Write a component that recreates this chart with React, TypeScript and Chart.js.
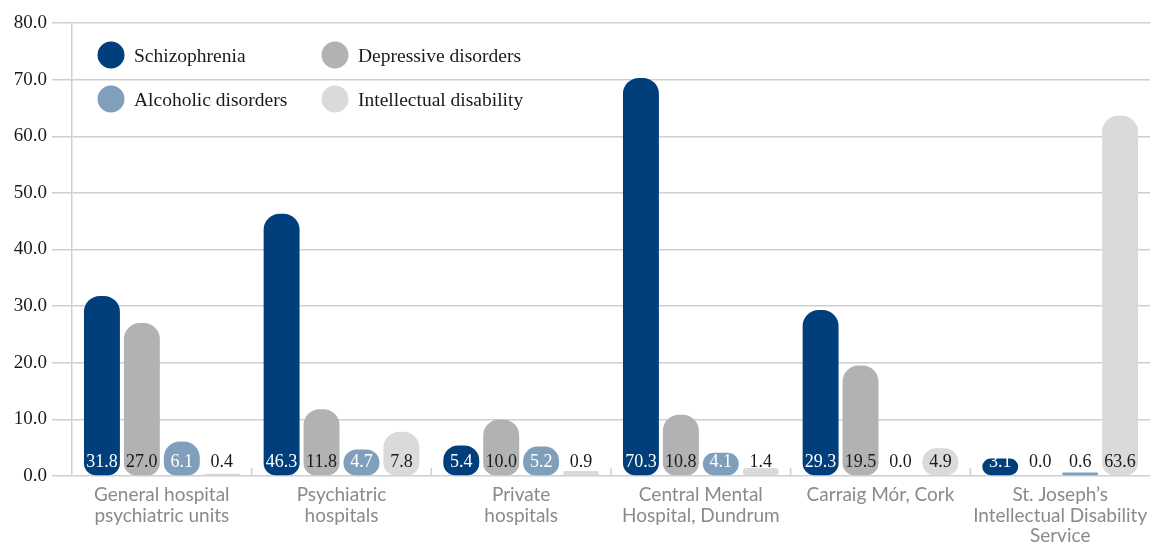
import React, { useEffect, useRef } from "react";
import { Chart, registerables } from "chart.js";

Chart.register(...registerables);

const categories: string[][] = [
  ["General hospital", "psychiatric units"],
  ["Psychiatric", "hospitals"],
  ["Private", "hospitals"],
  ["Central Mental", "Hospital, Dundrum"],
  ["Carraig Mór, Cork"],
  ["St. Joseph’s", "Intellectual Disability", "Service"],
];

const seriesNames = [
  "Schizophrenia",
  "Depressive disorders",
  "Alcoholic disorders",
  "Intellectual disability",
];

const schizophrenia = [31.8, 46.3, 5.4, 70.3, 29.3, 3.1];
const depressive = [27.0, 11.8, 10.0, 10.8, 19.5, 0.0];
const alcoholic = [6.1, 4.7, 5.2, 4.1, 0.0, 0.6];
const intellectual = [0.4, 7.8, 0.9, 1.4, 4.9, 63.6];

const seriesColors = ["#003f7b", "#b1b2b4", "#809fbd", "#d9dadc"];
const darkSeries = [true, false, true, false];

const yMin = 0;
const yMax = 80;
const yStep = 10;

const GRID = "#cfcfcf";
const SERIF = "'Liberation Serif', 'DejaVu Serif', serif";

const legendPlugin = {
  id: "gridLegend",
  afterDraw(chart: any) {
    const ctx = chart.ctx;
    const cols = [111, 335];
    const rows = [55, 99];
    ctx.save();
    chart.data.datasets.forEach((ds: any, i: number) => {
      const cx = cols[i % 2];
      const cy = rows[Math.floor(i / 2)];
      ctx.beginPath();
      ctx.arc(cx, cy, 13.5, 0, Math.PI * 2);
      ctx.fillStyle = ds.backgroundColor;
      ctx.fill();
      ctx.fillStyle = "#1a1a1a";
      ctx.font = `19.5px ${SERIF}`;
      ctx.textAlign = "left";
      ctx.textBaseline = "alphabetic";
      ctx.fillText(ds.label, cx + 23, cy + 6.5);
    });
    ctx.restore();
  },
};

const separatorPlugin = {
  id: "separators",
  afterDatasetsDraw(chart: any) {
    const ctx = chart.ctx;
    const x = chart.scales.x;
    const y = chart.scales.y;
    const base = y.getPixelForValue(0);
    ctx.save();
    ctx.strokeStyle = GRID;
    ctx.lineWidth = 1.5;
    for (let i = 1; i < categories.length; i++) {
      const px = (x.getPixelForValue(i - 1) + x.getPixelForValue(i)) / 2;
      ctx.beginPath();
      ctx.moveTo(px, base - 8);
      ctx.lineTo(px, base);
      ctx.stroke();
    }
    ctx.restore();
  },
};

const valueLabelPlugin = {
  id: "valueLabels",
  afterDatasetsDraw(chart: any) {
    const ctx = chart.ctx;
    const base = chart.scales.y.getPixelForValue(0);
    ctx.save();
    ctx.font = `18px ${SERIF}`;
    ctx.textAlign = "center";
    ctx.textBaseline = "alphabetic";
    chart.data.datasets.forEach((ds: any, di: number) => {
      const meta = chart.getDatasetMeta(di);
      meta.data.forEach((bar: any, i: number) => {
        const v = ds.data[i] as number;
        const white = darkSeries[di] && v >= 2;
        ctx.fillStyle = white ? "#ffffff" : "#1a1a1a";
        ctx.fillText(v.toFixed(1), bar.x, base - 9);
      });
    });
    ctx.restore();
  },
};

export default function App() {
  const ref = useRef<HTMLCanvasElement | null>(null);

  useEffect(() => {
    if (!ref.current) return;
    const values = [schizophrenia, depressive, alcoholic, intellectual];
    const chart = new Chart(ref.current, {
      type: "bar",
      data: {
        labels: categories,
        datasets: values.map((d, i) => ({
          label: seriesNames[i],
          data: d,
          backgroundColor: seriesColors[i],
          borderWidth: 0,
          borderSkipped: false,
          borderRadius: { topLeft: 16, topRight: 16, bottomLeft: 12, bottomRight: 12 },
          categoryPercentage: 0.889,
          barPercentage: 0.9,
        })),
      },
      options: {
        responsive: false,
        animation: false,
        layout: { padding: { top: 23, right: -2, left: 0, bottom: 0 } },
        plugins: {
          legend: { display: false },
          tooltip: { enabled: false },
        },
        scales: {
          x: {
            grid: { display: false, drawTicks: false },
            border: { display: false },
            ticks: {
              color: "#8a8a8a",
              font: { family: "Lato, 'Open Sans', sans-serif", size: 19, lineHeight: 1.08 },
              padding: 9,
              maxRotation: 0,
              autoSkip: false,
            },
            afterFit: (s: any) => {
              s.height = 66;
              s.paddingLeft = 0;
              s.paddingRight = 0;
            },
          },
          y: {
            min: yMin,
            max: yMax,
            ticks: {
              stepSize: yStep,
              color: "#1a1a1a",
              font: { family: SERIF, size: 19 },
              padding: 5,
              callback: (v: any) => Number(v).toFixed(1),
            },
            grid: { color: GRID, lineWidth: 1.5, tickLength: 20, drawTicks: true },
            border: { display: true, color: GRID, width: 1.5 },
            afterFit: (s: any) => {
              s.width = 72;
            },
          },
        },
      },
      plugins: [separatorPlugin, valueLabelPlugin, legendPlugin],
    });
    return () => chart.destroy();
  }, []);

  return (
    <div style={{ position: "absolute", left: 0, top: 0, width: 1150, height: 542, background: "#fff", overflow: "hidden" }}>
      <canvas ref={ref} width={1150} height={542} style={{ display: "block" }} />
    </div>
  );
}
